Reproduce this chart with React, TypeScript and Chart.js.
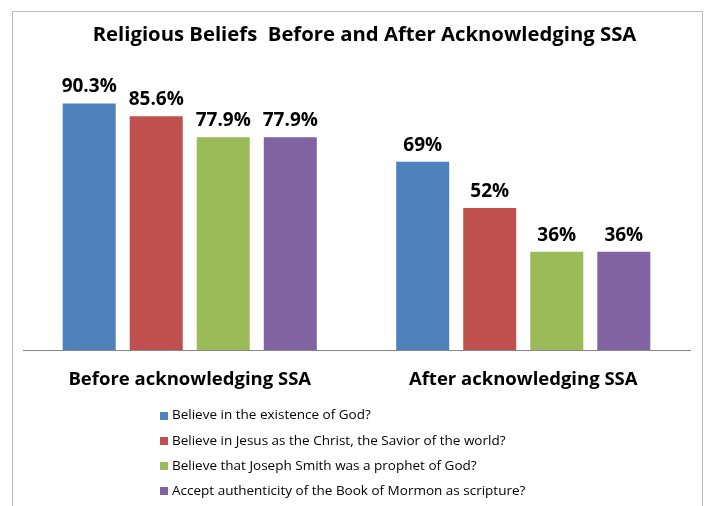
import React, { useEffect, useRef } from "react";
import { Chart, registerables } from "chart.js";

Chart.register(...registerables);

const categories = ["Before acknowledging SSA", "After acknowledging SSA"];
const seriesNames = [
  "Believe in the existence of God?",
  "Believe in Jesus as the Christ, the Savior of the world?",
  "Believe that Joseph Smith was a prophet of God?",
  "Accept authenticity of the Book of Mormon as scripture?",
];
const godValues = [90.3, 69];
const jesusValues = [85.6, 52];
const josephValues = [77.9, 36];
const mormonValues = [77.9, 36];
const seriesColors = ["#4F81BD", "#C0504D", "#9BBB59", "#8064A2"];
const titleText = "Religious Beliefs  Before and After Acknowledging SSA";

const FONT = "'Open Sans', Lato, sans-serif";

const fmt = (v: number) => (Number.isInteger(v) ? `${v}%` : `${v.toFixed(1)}%`);

const framePlugin = {
  id: "frame",
  beforeDraw(chart: any) {
    const ctx = chart.ctx;
    ctx.save();
    ctx.fillStyle = "#ffffff";
    ctx.fillRect(0, 0, chart.width, chart.height);
    ctx.strokeStyle = "#BCBCBC";
    ctx.lineWidth = 1;
    ctx.strokeRect(12.5, 11.5, 690, 600);
    ctx.restore();
  },
};

const titlePlugin = {
  id: "offsetTitle",
  afterDraw(chart: any) {
    const ctx = chart.ctx;
    ctx.save();
    ctx.font = `bold 20.3px ${FONT}`;
    ctx.fillStyle = "#000000";
    ctx.textAlign = "center";
    ctx.textBaseline = "middle";
    ctx.fillText(titleText, 364.5, 35);
    ctx.restore();
  },
};

const labelPlugin = {
  id: "valueLabels",
  afterDatasetsDraw(chart: any) {
    const ctx = chart.ctx;
    ctx.save();
    ctx.font = `bold 19px ${FONT}`;
    ctx.fillStyle = "#000000";
    ctx.textAlign = "center";
    ctx.textBaseline = "alphabetic";
    chart.data.datasets.forEach((ds: any, i: number) => {
      const meta = chart.getDatasetMeta(i);
      meta.data.forEach((el: any, j: number) => {
        ctx.fillText(fmt(ds.data[j]), el.x, el.y - 11);
      });
    });
    ctx.restore();
  },
};

const legendPlugin = {
  id: "listLegend",
  afterDraw(chart: any) {
    const ctx = chart.ctx;
    ctx.save();
    ctx.font = `13.5px ${FONT}`;
    ctx.textBaseline = "middle";
    ctx.textAlign = "left";
    const x0 = 160;
    const y0 = 415.5;
    const step = 25.3;
    chart.data.datasets.forEach((ds: any, i: number) => {
      const cy = y0 + i * step;
      ctx.fillStyle = ds.backgroundColor;
      ctx.fillRect(x0, Math.round(cy - 4), 8, 8);
      ctx.fillStyle = "#000000";
      ctx.fillText(ds.label, x0 + 12, cy);
    });
    ctx.restore();
  },
};

export default function App() {
  const ref = useRef<HTMLCanvasElement | null>(null);
  useEffect(() => {
    if (!ref.current) return;
    const values = [godValues, jesusValues, josephValues, mormonValues];
    const chart = new Chart(ref.current, {
      type: "bar",
      data: {
        labels: categories,
        datasets: values.map((d, i) => ({
          label: seriesNames[i],
          data: d,
          backgroundColor: seriesColors[i],
          borderWidth: 0,
          categoryPercentage: 0.804,
          barPercentage: 0.791,
        })),
      },
      options: {
        responsive: false,
        animation: false,
        layout: { padding: { left: 23, right: 16, top: 77, bottom: 95.8 } },
        plugins: {
          legend: { display: false },
          tooltip: { enabled: false },
          title: { display: false },
        },
        scales: {
          x: {
            grid: { display: false, drawTicks: false },
            border: { display: true, color: "#878787", width: 1 },
            ticks: {
              color: "#000000",
              padding: 19,
              font: { family: FONT, size: 18.5, weight: "bold" },
            },
          },
          y: {
            display: false,
            min: 0,
            max: 100,
          },
        },
      },
      plugins: [framePlugin, titlePlugin, labelPlugin, legendPlugin],
    });
    return () => chart.destroy();
  }, []);
  return (
    <div style={{ position: "fixed", left: 0, top: 0, width: 706, height: 506 }}>
      <canvas ref={ref} width={706} height={506} style={{ display: "block" }} />
    </div>
  );
}
